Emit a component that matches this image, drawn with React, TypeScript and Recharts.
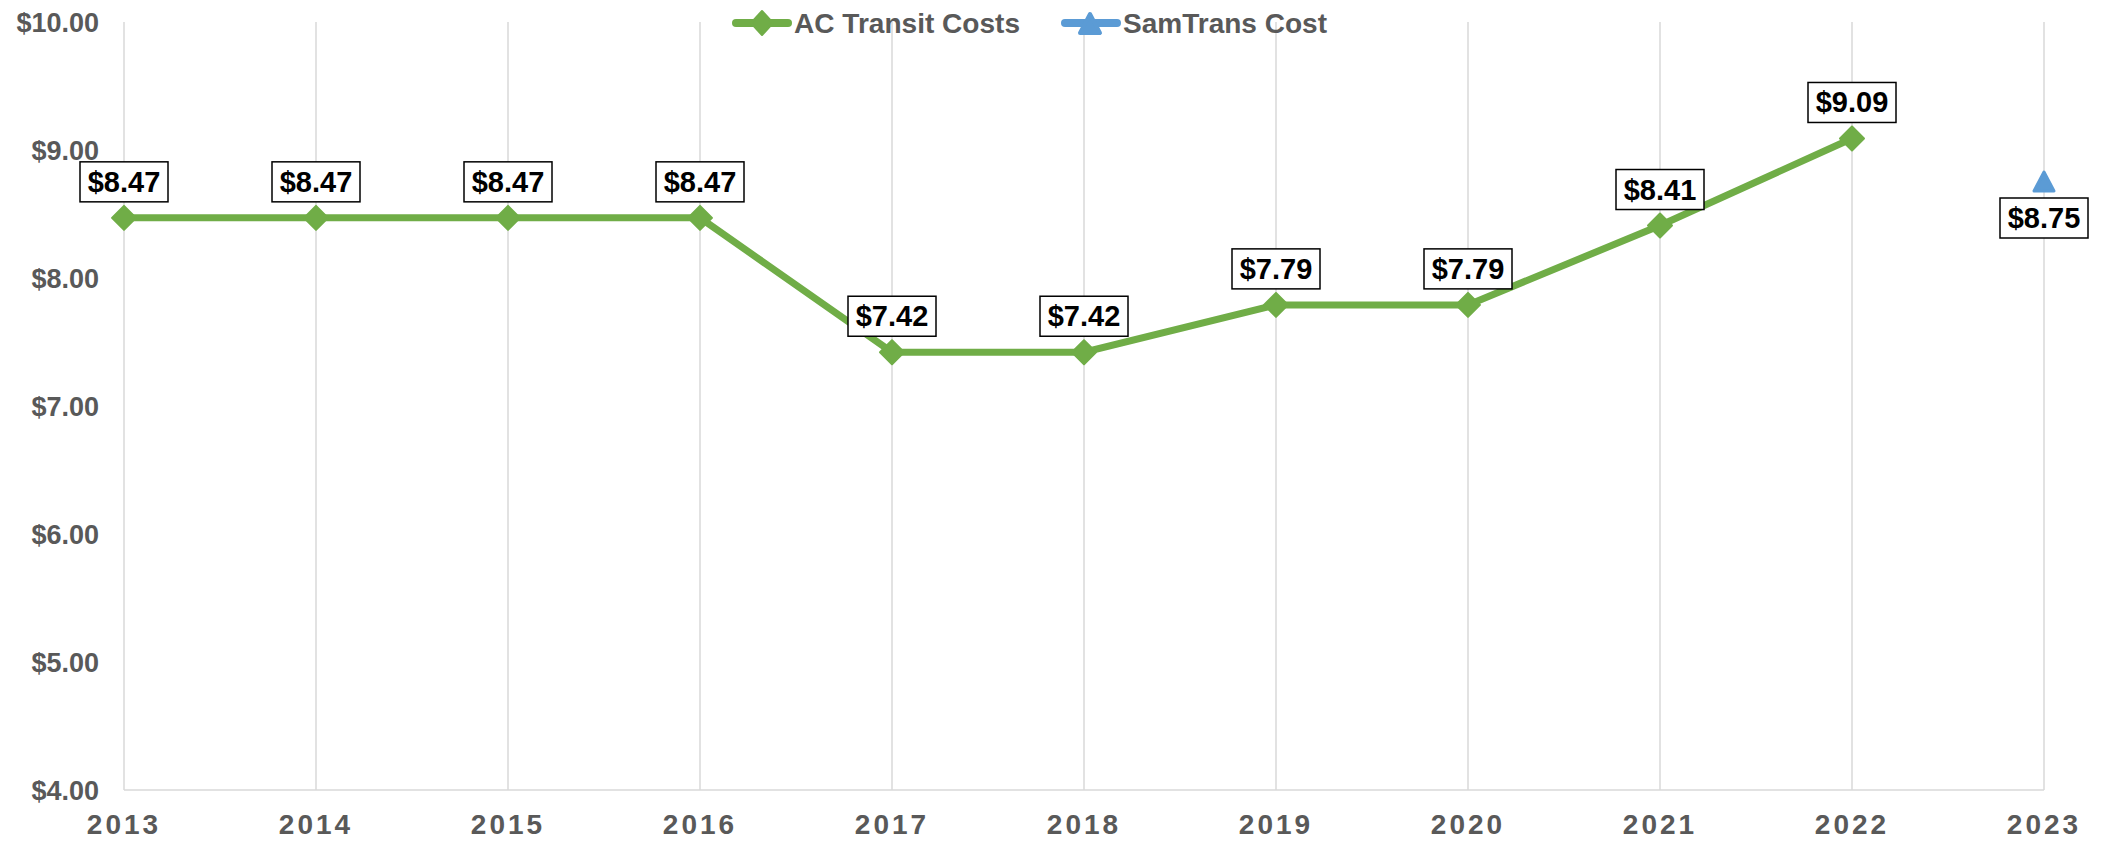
import React from "react";
import {
  LineChart,
  Line,
  XAxis,
  YAxis,
  CartesianGrid,
  Legend,
  LabelList,
} from "recharts";

const years = ["2013", "2014", "2015", "2016", "2017", "2018", "2019", "2020", "2021", "2022", "2023"];
const acTransit = [8.47, 8.47, 8.47, 8.47, 7.42, 7.42, 7.79, 7.79, 8.41, 9.09, null];
const samTrans = [null, null, null, null, null, null, null, null, null, null, 8.75];
const yTicks = [4, 5, 6, 7, 8, 9, 10];

const data = years.map((year, i) => ({
  year,
  ac: acTransit[i],
  sam: samTrans[i],
}));

const GREEN = "#70AD47";
const BLUE = "#5B9BD5";
const GREY = "#595959";
const FONT = "'Liberation Sans', Arial, sans-serif";

const money = (v: number) => `$${v.toFixed(2)}`;

// diamond marker for AC Transit
const Diamond = (props: any) => {
  const { cx, cy, value, index } = props;
  if (value == null || cy == null) return <g key={`d-${index}`} />;
  return (
    <path
      key={`d-${index}`}
      d={`M${cx},${cy - 12} L${cx + 12},${cy} L${cx},${cy + 12} L${cx - 12},${cy} Z`}
      fill={GREEN}
      stroke={GREEN}
      strokeWidth={2}
      strokeLinejoin="round"
    />
  );
};

// triangle marker for SamTrans
const Triangle = (props: any) => {
  const { cx, cy, value, index } = props;
  if (value == null || cy == null) return <g key={`t-${index}`} />;
  return (
    <path
      key={`t-${index}`}
      d={`M${cx},${cy - 10} L${cx + 10},${cy + 9} L${cx - 10},${cy + 9} Z`}
      fill={BLUE}
      stroke={BLUE}
      strokeWidth={3}
      strokeLinejoin="round"
    />
  );
};

const boxLabel = (offset: number) => (props: any) => {
  const { x, y, value, index } = props;
  if (value == null) return <g key={`l-${index}`} />;
  const cy = y + offset;
  return (
    <g key={`l-${index}`}>
      <rect x={x - 44} y={cy - 20} width={88} height={40} fill="#fff" stroke="#000" strokeWidth={1.5} />
      <text
        x={x}
        y={cy + 10}
        textAnchor="middle"
        fontFamily={FONT}
        fontWeight="bold"
        fontSize={29}
        fill="#000"
      >
        {money(value)}
      </text>
    </g>
  );
};

const renderLegend = () => (
  <svg width={640} height={46} style={{ display: "block", overflow: "visible" }}>
    {/* AC Transit */}
    <line x1={16} y1={23} x2={68} y2={23} stroke={GREEN} strokeWidth={8} strokeLinecap="round" />
    <path d="M42,11 L53,23 L42,35 L31,23 Z" fill={GREEN} stroke={GREEN} strokeWidth={2} strokeLinejoin="round" />
    <text x={74} y={33} fontFamily={FONT} fontWeight="bold" fontSize="28px" fill={GREY} textLength={226} lengthAdjust="spacingAndGlyphs">
      AC Transit Costs
    </text>
    {/* SamTrans */}
    <line x1={345} y1={23} x2={397} y2={23} stroke={BLUE} strokeWidth={8} strokeLinecap="round" />
    <path d="M370,14 L380,33 L360,33 Z" fill={BLUE} stroke={BLUE} strokeWidth={4} strokeLinejoin="round" />
    <text x={403} y={33} fontFamily={FONT} fontWeight="bold" fontSize="28px" fill={GREY} textLength={204} lengthAdjust="spacingAndGlyphs">
      SamTrans Cost
    </text>
  </svg>
);

export default function App() {
  return (
    <div style={{ position: "absolute", left: 0, top: 0, width: 2103, height: 841, background: "#fff" }}>
      <LineChart
        width={2103}
        height={841}
        data={data}
        margin={{ top: 22, right: 59, bottom: 0, left: 0 }}
      >
        <CartesianGrid horizontal={false} stroke="#D9D9D9" strokeWidth={1.5} />
        <XAxis
          dataKey="year"
          interval={0}
          height={51}
          axisLine={{ stroke: "#D9D9D9", strokeWidth: 1.5 }}
          tickLine={false}
          tickSize={0}
          tickMargin={24}
          tick={{ fill: GREY, fontSize: 28, fontWeight: "bold", fontFamily: FONT, letterSpacing: 3 }}
        />
        <YAxis
          domain={[4, 10]}
          ticks={yTicks}
          width={124}
          axisLine={false}
          tickLine={false}
          tickSize={0}
          tickMargin={25}
          tickFormatter={money}
          tick={{ fill: GREY, fontSize: 27, fontWeight: "bold", fontFamily: FONT }}
        />
        <Legend
          verticalAlign="middle"
          content={renderLegend}
          wrapperStyle={{ position: "absolute", top: 0, left: 720, width: 640, height: 46 }}
        />
        <Line
          dataKey="ac"
          name="AC Transit Costs"
          stroke={GREEN}
          strokeWidth={7}
          dot={Diamond}
          activeDot={false}
          connectNulls={false}
          isAnimationActive={false}
        >
          <LabelList dataKey="ac" content={boxLabel(-36)} />
        </Line>
        <Line
          dataKey="sam"
          name="SamTrans Cost"
          stroke={BLUE}
          strokeWidth={7}
          dot={Triangle}
          activeDot={false}
          isAnimationActive={false}
        >
          <LabelList dataKey="sam" content={boxLabel(36)} />
        </Line>
      </LineChart>
    </div>
  );
}
